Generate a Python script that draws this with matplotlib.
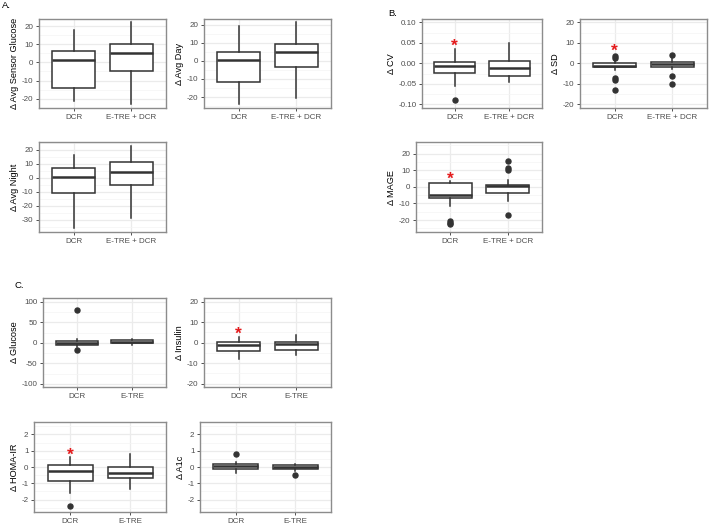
import matplotlib
matplotlib.use("Agg")
import matplotlib.pyplot as plt
from matplotlib.ticker import FixedLocator

plt.rcParams['font.family'] = ['Liberation Sans', 'DejaVu Sans']
plt.rcParams['axes.unicode_minus'] = False

# ---------------- data (box statistics) ----------------
groups_ab = ["DCR", "E-TRE + DCR"]
groups_c = ["DCR", "E-TRE"]

# each: [whislo, q1, med, q3, whishi]
sensor_glucose = [[-21.3, -14.3, 1.5, 6.2, 17.8], [-22.9, -4.8, 5.1, 10.1, 22.2]]
sensor_glucose_fliers = [[], []]
avg_day = [[-23.9, -11.5, 0.7, 4.8, 19.6], [-20.7, -3.5, 4.8, 9.6, 21.7]]
avg_day_fliers = [[], []]
avg_night = [[-36.3, -11.0, 0.6, 7.0, 15.9], [-29.2, -5.6, 3.9, 11.3, 22.7]]
avg_night_fliers = [[], []]

cv = [[-0.055, -0.0236, -0.0073, 0.0024, 0.035], [-0.0447, -0.0317, -0.0106, 0.0065, 0.0504]]
cv_fliers = [[-0.0894], []]
sd = [[-3.3, -2.0, -1.3, 0.3, 1.3], [-3.0, -1.6, -0.3, 0.8, 3.0]]
sd_fliers = [[2.5, 3.6, -7.4, -8.0, -13.1], [3.9, -6.4, -10.0]]
mage = [[-11.8, -6.5, -5.1, 2.4, 3.3], [-8.8, -3.9, 0.3, 1.3, 4.2]]
mage_fliers = [[-20.5, -21.5, -22.3], [15.5, 11.5, 10.4, -17.0]]

glucose = [[-11.0, -4.8, 0.0, 3.4, 10.0], [-6.0, -1.5, 2.4, 5.8, 9.4]]
glucose_fliers = [[79.8, -17.7], []]
insulin = [[-8.2, -4.2, -1.3, 0.2, 2.9], [-6.2, -3.8, -0.8, 0.2, 3.9]]
insulin_fliers = [[], []]
homa_ir = [[-1.59, -0.84, -0.24, 0.12, 0.61], [-1.37, -0.69, -0.37, 0.02, 0.82]]
homa_ir_fliers = [[-2.37], []]
a1c = [[-0.37, -0.10, 0.04, 0.20, 0.29], [-0.25, -0.10, 0.02, 0.10, 0.16]]
a1c_fliers = [[0.80], [-0.49]]

# significance stars: (group index, y value)
star_cv = [(0, 0.0488)]
star_sd = [(0, 7.4)]
star_mage = [(0, 6.4)]
star_insulin = [(0, 5.4)]
star_homa = [(0, 0.90)]

W, H = 709, 524
fig = plt.figure(figsize=(W / 100, H / 100), dpi=100)
fig.patch.set_facecolor("white")

DARK = "#333333"
GRIDC = "#EBEBEB"


def make_ax(x0, x1, y0, y1):
    return fig.add_axes([x0 / W, 1 - y1 / H, (x1 - x0) / W, (y1 - y0) / H])


def panel(rect, stats5, fliers, labels, ylabel, ylim, major, minor, fmt=None, stars=()):
    ax = make_ax(*rect)
    stats = []
    for i, s in enumerate(stats5):
        stats.append(dict(whislo=s[0], q1=s[1], med=s[2], q3=s[3], whishi=s[4],
                          fliers=fliers[i], label=labels[i]))
    ax.set_xlim(0.4, 2.6)
    ax.set_ylim(*ylim)
    ax.yaxis.set_major_locator(FixedLocator(major))
    ax.yaxis.set_minor_locator(FixedLocator(minor))
    ax.grid(True, which="major", color=GRIDC, lw=0.9, zorder=0)
    ax.grid(True, which="minor", axis="y", color="#F4F4F4", lw=0.5, zorder=0)
    ax.set_axisbelow(True)
    ax.bxp(stats, positions=[1, 2], widths=0.75, patch_artist=True,
           showcaps=False,
           boxprops=dict(facecolor="white", edgecolor=DARK, lw=1.1),
           medianprops=dict(color=DARK, lw=1.8),
           whiskerprops=dict(color=DARK, lw=1.1),
           flierprops=dict(marker="o", markersize=3.6, markerfacecolor=DARK,
                           markeredgecolor=DARK),
           zorder=3)
    ax.set_xticks([1, 2])
    ax.set_xticklabels(labels)
    if fmt:
        ax.set_yticklabels([fmt.format(v) for v in major])
    for gi, yv in stars:
        ax.annotate("*", xy=(gi + 1, yv), xytext=(0, -2.2), textcoords="offset points",
                    color="#E41A1C", fontsize=12.5, fontweight="bold",
                    ha="center", va="center", zorder=5)
    ax.set_ylabel(ylabel, fontsize=6.6, color="black", labelpad=2)
    ax.tick_params(axis="both", which="major", labelsize=5.8, labelcolor="#4D4D4D",
                   color=DARK, length=2.5, width=0.6, pad=1.5)
    ax.tick_params(axis="both", which="minor", length=0)
    for sp in ax.spines.values():
        sp.set_color("#8C8C8C")
        sp.set_linewidth(1.0)
    return ax


# ---------------- A ----------------
panel((39, 166, 19, 108), sensor_glucose, sensor_glucose_fliers, groups_ab,
      "Δ Avg Sensor Glucose", (-25.1, 23.9), [-20, -10, 0, 10, 20], [-15, -5, 5, 15])
panel((204, 331, 19, 108), avg_day, avg_day_fliers, groups_ab,
      "Δ Avg Day", (-26.1, 23.3), [-20, -10, 0, 10, 20], [-25, -15, -5, 5, 15])
panel((39, 166, 142, 232), avg_night, avg_night_fliers, groups_ab,
      "Δ Avg Night", (-38.9, 25.4), [-30, -20, -10, 0, 10, 20], [-35, -25, -15, -5, 5, 15, 25])

# ---------------- B ----------------
panel((422, 542, 19, 108), cv, cv_fliers, groups_ab,
      "Δ CV", (-0.109, 0.108), [-0.10, -0.05, 0.0, 0.05, 0.10],
      [-0.075, -0.025, 0.025, 0.075], fmt="{:.2f}", stars=star_cv)
panel((580, 707, 19, 108), sd, sd_fliers, groups_ab,
      "Δ SD", (-21.8, 21.6), [-20, -10, 0, 10, 20], [-15, -5, 5, 15], stars=star_sd)
panel((416, 542, 142, 232), mage, mage_fliers, groups_ab,
      "Δ MAGE", (-27.2, 27.0), [-20, -10, 0, 10, 20], [-25, -15, -5, 5, 15, 25],
      stars=star_mage)

# ---------------- C ----------------
panel((43, 166, 298, 387), glucose, glucose_fliers, groups_c,
      "Δ Glucose", (-107.3, 109.0), [-100, -50, 0, 50, 100], [-75, -25, 25, 75])
panel((204, 331, 298, 387), insulin, insulin_fliers, groups_c,
      "Δ Insulin", (-21.7, 21.8), [-20, -10, 0, 10, 20], [-15, -5, 5, 15],
      stars=star_insulin)
panel((34, 166, 422, 512), homa_ir, homa_ir_fliers, groups_c,
      "Δ HOMA-IR", (-2.76, 2.76), [-2, -1, 0, 1, 2], [-2.5, -1.5, -0.5, 0.5, 1.5, 2.5],
      stars=star_homa)
panel((200, 331, 422, 512), a1c, a1c_fliers, groups_c,
      "Δ A1c", (-2.76, 2.76), [-2, -1, 0, 1, 2], [-2.5, -1.5, -0.5, 0.5, 1.5, 2.5])

# panel letters
fig.text(2 / W, 1 - 6 / H, "A.", fontsize=6.8, ha="left", va="center")
fig.text(388 / W, 1 - 14 / H, "B.", fontsize=6.8, ha="left", va="center")
fig.text(15 / W, 1 - 286 / H, "C.", fontsize=6.8, ha="left", va="center")

fig.savefig("out.png", dpi=100, facecolor="white")
